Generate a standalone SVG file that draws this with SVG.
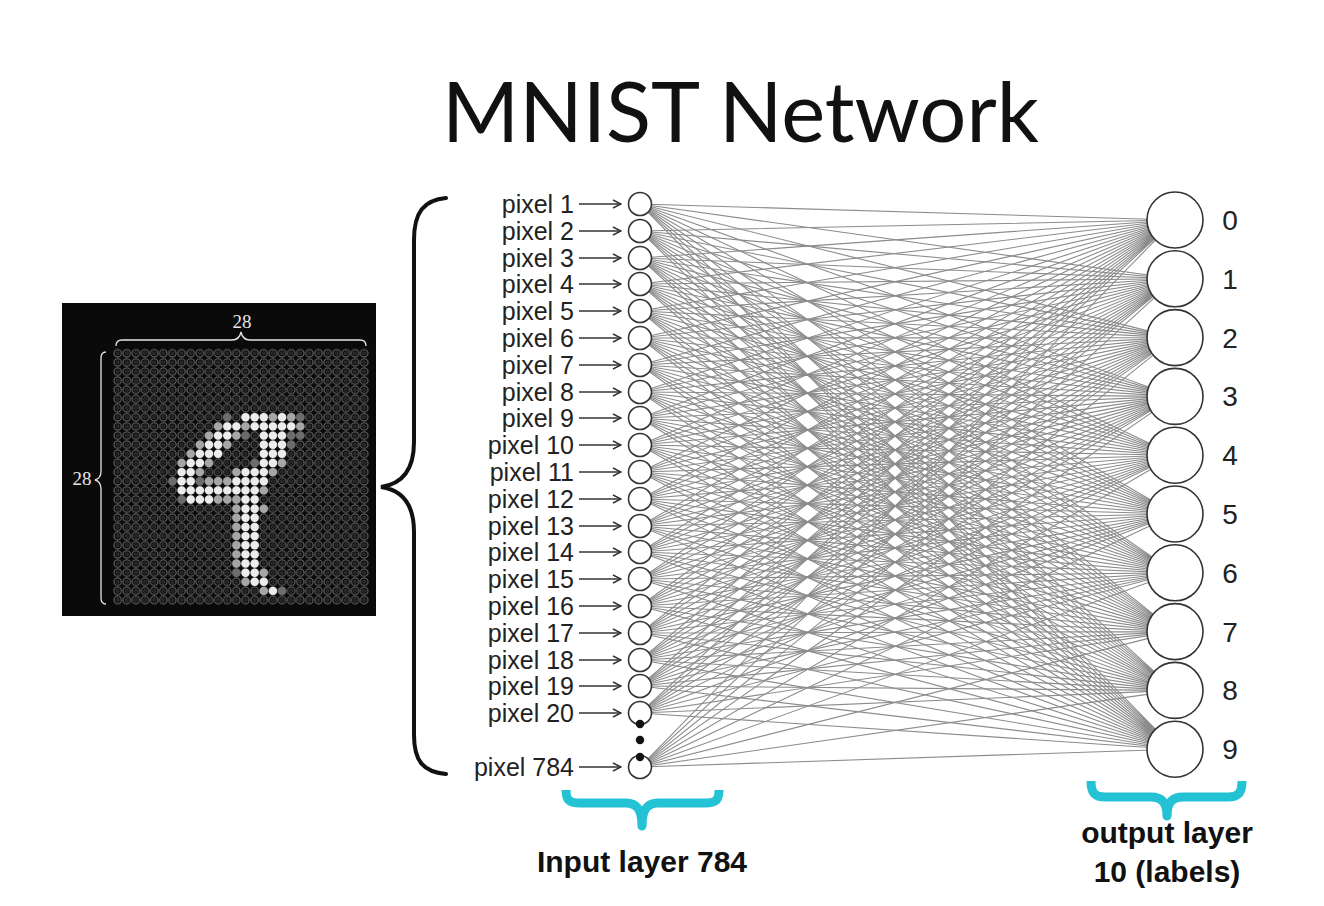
<svg xmlns="http://www.w3.org/2000/svg" width="1324" height="906" viewBox="0 0 1324 906">
<defs>
<style>
.lbl{font-family:"Liberation Sans",Arial,sans-serif;font-size:25px;fill:#222;text-anchor:end}
.dig{font-family:"Liberation Sans",Arial,sans-serif;font-size:28px;fill:#222;text-anchor:middle}
.bold{font-family:"Liberation Sans",Arial,sans-serif;font-size:30px;font-weight:bold;fill:#111;text-anchor:middle}
.arr{stroke:#333;stroke-width:1.4;fill:none}
.in{fill:#fff;stroke:#333;stroke-width:1.6}
.out{fill:#fff;stroke:#333;stroke-width:1.6}
.conn path{stroke:#8c8c8c;stroke-width:1.1;fill:none}
.teal{stroke:#24c2d5;stroke-width:9;fill:none;stroke-linejoin:round}
.w{fill:#ececec}.g{fill:#a6a6a6}.d{fill:#6c6c6c}
.mn{font-family:"Liberation Serif","Times New Roman",serif;font-size:19px;fill:#e6e6e6;text-anchor:middle}
</style>
<marker id="ah" viewBox="0 0 10 10" refX="9" refY="5" markerWidth="10" markerHeight="10" markerUnits="userSpaceOnUse" orient="auto">
<path d="M1,1 L9,5 L1,9" fill="none" stroke="#333" stroke-width="1.4"/>
</marker>
<pattern id="px" x="113.1" y="348.7" width="9.13" height="9.14" patternUnits="userSpaceOnUse">
<circle cx="4.565" cy="4.57" r="3.7" fill="none" stroke="#9a9a9a" stroke-width="0.7"/>
<circle cx="4.565" cy="4.57" r="1.4" fill="none" stroke="#5a5a5a" stroke-width="0.6"/>
</pattern>
</defs>
<rect width="1324" height="906" fill="#fff"/>

<text x="442" y="142" font-family="Lato,'Open Sans',sans-serif" font-size="84" fill="#111" textLength="597" lengthAdjust="spacingAndGlyphs">MNIST Network</text>

<g id="mnist-image">
<rect x="62" y="303" width="314" height="313" fill="#0a0a0a"/>
<rect x="113.1" y="348.7" width="255.7" height="256" fill="url(#px)"/>
<g>
<circle class="d" cx="227.3" cy="417.3" r="4.2"/><circle class="w" cx="245.5" cy="417.3" r="4.2"/><circle class="w" cx="254.7" cy="417.3" r="4.2"/><circle class="w" cx="263.8" cy="417.3" r="4.2"/><circle class="g" cx="272.9" cy="417.3" r="4.2"/><circle class="w" cx="282" cy="417.3" r="4.2"/><circle class="g" cx="291.2" cy="417.3" r="4.2"/><circle class="d" cx="300.3" cy="417.3" r="4.2"/>
<circle class="g" cx="218.1" cy="426.4" r="4.2"/><circle class="w" cx="227.3" cy="426.4" r="4.2"/><circle class="w" cx="236.4" cy="426.4" r="4.2"/><circle class="g" cx="245.5" cy="426.4" r="4.2"/><circle class="w" cx="254.7" cy="426.4" r="4.2"/><circle class="w" cx="263.8" cy="426.4" r="4.2"/><circle class="w" cx="272.9" cy="426.4" r="4.2"/><circle class="w" cx="282" cy="426.4" r="4.2"/><circle class="w" cx="291.2" cy="426.4" r="4.2"/><circle class="g" cx="300.3" cy="426.4" r="4.2"/>
<circle class="g" cx="209" cy="435.6" r="4.2"/><circle class="w" cx="218.1" cy="435.6" r="4.2"/><circle class="w" cx="227.3" cy="435.6" r="4.2"/><circle class="g" cx="236.4" cy="435.6" r="4.2"/><circle class="d" cx="245.5" cy="435.6" r="4.2"/><circle class="w" cx="263.8" cy="435.6" r="4.2"/><circle class="w" cx="272.9" cy="435.6" r="4.2"/><circle class="w" cx="282" cy="435.6" r="4.2"/><circle class="d" cx="291.2" cy="435.6" r="4.2"/><circle class="d" cx="300.3" cy="435.6" r="4.2"/>
<circle class="g" cx="199.9" cy="444.7" r="4.2"/><circle class="w" cx="209" cy="444.7" r="4.2"/><circle class="w" cx="218.1" cy="444.7" r="4.2"/><circle class="g" cx="227.3" cy="444.7" r="4.2"/><circle class="w" cx="263.8" cy="444.7" r="4.2"/><circle class="w" cx="272.9" cy="444.7" r="4.2"/><circle class="w" cx="282" cy="444.7" r="4.2"/><circle class="d" cx="291.2" cy="444.7" r="4.2"/>
<circle class="g" cx="190.7" cy="453.8" r="4.2"/><circle class="w" cx="199.9" cy="453.8" r="4.2"/><circle class="w" cx="209" cy="453.8" r="4.2"/><circle class="w" cx="218.1" cy="453.8" r="4.2"/><circle class="w" cx="263.8" cy="453.8" r="4.2"/><circle class="w" cx="272.9" cy="453.8" r="4.2"/><circle class="w" cx="282" cy="453.8" r="4.2"/>
<circle class="g" cx="181.6" cy="463" r="4.2"/><circle class="w" cx="190.7" cy="463" r="4.2"/><circle class="w" cx="199.9" cy="463" r="4.2"/><circle class="g" cx="209" cy="463" r="4.2"/><circle class="d" cx="254.7" cy="463" r="4.2"/><circle class="w" cx="263.8" cy="463" r="4.2"/><circle class="w" cx="272.9" cy="463" r="4.2"/><circle class="g" cx="282" cy="463" r="4.2"/>
<circle class="w" cx="181.6" cy="472.1" r="4.2"/><circle class="w" cx="190.7" cy="472.1" r="4.2"/><circle class="g" cx="199.9" cy="472.1" r="4.2"/><circle class="g" cx="236.4" cy="472.1" r="4.2"/><circle class="w" cx="245.5" cy="472.1" r="4.2"/><circle class="w" cx="254.7" cy="472.1" r="4.2"/><circle class="w" cx="263.8" cy="472.1" r="4.2"/><circle class="g" cx="272.9" cy="472.1" r="4.2"/>
<circle class="d" cx="172.5" cy="481.3" r="4.2"/><circle class="w" cx="181.6" cy="481.3" r="4.2"/><circle class="w" cx="190.7" cy="481.3" r="4.2"/><circle class="d" cx="199.9" cy="481.3" r="4.2"/><circle class="g" cx="209" cy="481.3" r="4.2"/><circle class="g" cx="218.1" cy="481.3" r="4.2"/><circle class="g" cx="227.3" cy="481.3" r="4.2"/><circle class="w" cx="236.4" cy="481.3" r="4.2"/><circle class="w" cx="245.5" cy="481.3" r="4.2"/><circle class="w" cx="254.7" cy="481.3" r="4.2"/><circle class="w" cx="263.8" cy="481.3" r="4.2"/>
<circle class="w" cx="181.6" cy="490.4" r="4.2"/><circle class="w" cx="190.7" cy="490.4" r="4.2"/><circle class="w" cx="199.9" cy="490.4" r="4.2"/><circle class="w" cx="209" cy="490.4" r="4.2"/><circle class="w" cx="218.1" cy="490.4" r="4.2"/><circle class="w" cx="227.3" cy="490.4" r="4.2"/><circle class="w" cx="236.4" cy="490.4" r="4.2"/><circle class="w" cx="245.5" cy="490.4" r="4.2"/><circle class="w" cx="254.7" cy="490.4" r="4.2"/><circle class="g" cx="263.8" cy="490.4" r="4.2"/>
<circle class="d" cx="181.6" cy="499.5" r="4.2"/><circle class="w" cx="190.7" cy="499.5" r="4.2"/><circle class="w" cx="199.9" cy="499.5" r="4.2"/><circle class="w" cx="209" cy="499.5" r="4.2"/><circle class="g" cx="218.1" cy="499.5" r="4.2"/><circle class="g" cx="227.3" cy="499.5" r="4.2"/><circle class="g" cx="236.4" cy="499.5" r="4.2"/><circle class="w" cx="245.5" cy="499.5" r="4.2"/><circle class="w" cx="254.7" cy="499.5" r="4.2"/>
<circle class="g" cx="236.4" cy="508.7" r="4.2"/><circle class="w" cx="245.5" cy="508.7" r="4.2"/><circle class="w" cx="254.7" cy="508.7" r="4.2"/><circle class="g" cx="263.8" cy="508.7" r="4.2"/>
<circle class="g" cx="236.4" cy="517.8" r="4.2"/><circle class="w" cx="245.5" cy="517.8" r="4.2"/><circle class="w" cx="254.7" cy="517.8" r="4.2"/>
<circle class="g" cx="236.4" cy="527" r="4.2"/><circle class="w" cx="245.5" cy="527" r="4.2"/><circle class="w" cx="254.7" cy="527" r="4.2"/>
<circle class="g" cx="236.4" cy="536.1" r="4.2"/><circle class="w" cx="245.5" cy="536.1" r="4.2"/><circle class="w" cx="254.7" cy="536.1" r="4.2"/>
<circle class="g" cx="236.4" cy="545.3" r="4.2"/><circle class="w" cx="245.5" cy="545.3" r="4.2"/><circle class="w" cx="254.7" cy="545.3" r="4.2"/>
<circle class="g" cx="236.4" cy="554.4" r="4.2"/><circle class="w" cx="245.5" cy="554.4" r="4.2"/><circle class="w" cx="254.7" cy="554.4" r="4.2"/>
<circle class="g" cx="236.4" cy="563.5" r="4.2"/><circle class="w" cx="245.5" cy="563.5" r="4.2"/><circle class="w" cx="254.7" cy="563.5" r="4.2"/>
<circle class="d" cx="236.4" cy="572.7" r="4.2"/><circle class="w" cx="245.5" cy="572.7" r="4.2"/><circle class="w" cx="254.7" cy="572.7" r="4.2"/><circle class="g" cx="263.8" cy="572.7" r="4.2"/>
<circle class="g" cx="245.5" cy="581.8" r="4.2"/><circle class="w" cx="254.7" cy="581.8" r="4.2"/><circle class="w" cx="263.8" cy="581.8" r="4.2"/>
<circle class="g" cx="263.8" cy="590.9" r="4.2"/><circle class="w" cx="272.9" cy="590.9" r="4.2"/><circle class="d" cx="282" cy="590.9" r="4.2"/>
</g>
<path d="M116,346 C116,342 118,340 122,340 L232,340 C237,340 240,337 241,332 C242,337 245,340 250,340 L360,340 C364,340 366,342 366,346" fill="none" stroke="#e6e6e6" stroke-width="1.3"/>
<path d="M106,352 C102,352 101,354 101,358 L101,471 C101,476 99,479 95,480 C99,481 101,484 101,489 L101,598 C101,602 102,604 106,604" fill="none" stroke="#e6e6e6" stroke-width="1.3"/>
<text class="mn" x="242" y="328">28</text>
<text class="mn" x="82" y="485">28</text>
</g>

<g id="big-brace">
<path d="M446,198 C424,200 414,212 414,240 L414,442 C414,470 402,484 381,487 C402,490 414,504 414,532 L414,735 C414,762 424,772 446,774" fill="none" stroke="#111" stroke-width="4" stroke-linecap="round"/>
</g>

<g id="connectors" class="conn">
<path d="M640 204L1175 220M640 231L1175 220M640 258L1175 220M640 284L1175 220M640 311L1175 220M640 338L1175 220M640 365L1175 220M640 392L1175 220M640 418L1175 220M640 445L1175 220M640 472L1175 220M640 499L1175 220M640 526L1175 220M640 552L1175 220M640 579L1175 220M640 606L1175 220M640 633L1175 220M640 660L1175 220M640 686L1175 220M640 713L1175 220M640 767L1175 220"/>
<path d="M640 204L1175 278.8M640 231L1175 278.8M640 258L1175 278.8M640 284L1175 278.8M640 311L1175 278.8M640 338L1175 278.8M640 365L1175 278.8M640 392L1175 278.8M640 418L1175 278.8M640 445L1175 278.8M640 472L1175 278.8M640 499L1175 278.8M640 526L1175 278.8M640 552L1175 278.8M640 579L1175 278.8M640 606L1175 278.8M640 633L1175 278.8M640 660L1175 278.8M640 686L1175 278.8M640 713L1175 278.8M640 767L1175 278.8"/>
<path d="M640 204L1175 337.6M640 231L1175 337.6M640 258L1175 337.6M640 284L1175 337.6M640 311L1175 337.6M640 338L1175 337.6M640 365L1175 337.6M640 392L1175 337.6M640 418L1175 337.6M640 445L1175 337.6M640 472L1175 337.6M640 499L1175 337.6M640 526L1175 337.6M640 552L1175 337.6M640 579L1175 337.6M640 606L1175 337.6M640 633L1175 337.6M640 660L1175 337.6M640 686L1175 337.6M640 713L1175 337.6M640 767L1175 337.6"/>
<path d="M640 204L1175 396.4M640 231L1175 396.4M640 258L1175 396.4M640 284L1175 396.4M640 311L1175 396.4M640 338L1175 396.4M640 365L1175 396.4M640 392L1175 396.4M640 418L1175 396.4M640 445L1175 396.4M640 472L1175 396.4M640 499L1175 396.4M640 526L1175 396.4M640 552L1175 396.4M640 579L1175 396.4M640 606L1175 396.4M640 633L1175 396.4M640 660L1175 396.4M640 686L1175 396.4M640 713L1175 396.4M640 767L1175 396.4"/>
<path d="M640 204L1175 455.2M640 231L1175 455.2M640 258L1175 455.2M640 284L1175 455.2M640 311L1175 455.2M640 338L1175 455.2M640 365L1175 455.2M640 392L1175 455.2M640 418L1175 455.2M640 445L1175 455.2M640 472L1175 455.2M640 499L1175 455.2M640 526L1175 455.2M640 552L1175 455.2M640 579L1175 455.2M640 606L1175 455.2M640 633L1175 455.2M640 660L1175 455.2M640 686L1175 455.2M640 713L1175 455.2M640 767L1175 455.2"/>
<path d="M640 204L1175 514M640 231L1175 514M640 258L1175 514M640 284L1175 514M640 311L1175 514M640 338L1175 514M640 365L1175 514M640 392L1175 514M640 418L1175 514M640 445L1175 514M640 472L1175 514M640 499L1175 514M640 526L1175 514M640 552L1175 514M640 579L1175 514M640 606L1175 514M640 633L1175 514M640 660L1175 514M640 686L1175 514M640 713L1175 514M640 767L1175 514"/>
<path d="M640 204L1175 572.8M640 231L1175 572.8M640 258L1175 572.8M640 284L1175 572.8M640 311L1175 572.8M640 338L1175 572.8M640 365L1175 572.8M640 392L1175 572.8M640 418L1175 572.8M640 445L1175 572.8M640 472L1175 572.8M640 499L1175 572.8M640 526L1175 572.8M640 552L1175 572.8M640 579L1175 572.8M640 606L1175 572.8M640 633L1175 572.8M640 660L1175 572.8M640 686L1175 572.8M640 713L1175 572.8M640 767L1175 572.8"/>
<path d="M640 204L1175 631.6M640 231L1175 631.6M640 258L1175 631.6M640 284L1175 631.6M640 311L1175 631.6M640 338L1175 631.6M640 365L1175 631.6M640 392L1175 631.6M640 418L1175 631.6M640 445L1175 631.6M640 472L1175 631.6M640 499L1175 631.6M640 526L1175 631.6M640 552L1175 631.6M640 579L1175 631.6M640 606L1175 631.6M640 633L1175 631.6M640 660L1175 631.6M640 686L1175 631.6M640 713L1175 631.6M640 767L1175 631.6"/>
<path d="M640 204L1175 690.4M640 231L1175 690.4M640 258L1175 690.4M640 284L1175 690.4M640 311L1175 690.4M640 338L1175 690.4M640 365L1175 690.4M640 392L1175 690.4M640 418L1175 690.4M640 445L1175 690.4M640 472L1175 690.4M640 499L1175 690.4M640 526L1175 690.4M640 552L1175 690.4M640 579L1175 690.4M640 606L1175 690.4M640 633L1175 690.4M640 660L1175 690.4M640 686L1175 690.4M640 713L1175 690.4M640 767L1175 690.4"/>
<path d="M640 204L1175 749.2M640 231L1175 749.2M640 258L1175 749.2M640 284L1175 749.2M640 311L1175 749.2M640 338L1175 749.2M640 365L1175 749.2M640 392L1175 749.2M640 418L1175 749.2M640 445L1175 749.2M640 472L1175 749.2M640 499L1175 749.2M640 526L1175 749.2M640 552L1175 749.2M640 579L1175 749.2M640 606L1175 749.2M640 633L1175 749.2M640 660L1175 749.2M640 686L1175 749.2M640 713L1175 749.2M640 767L1175 749.2"/>
</g>

<g id="input-arrows">
<line class="arr" x1="579" y1="204" x2="621" y2="204" marker-end="url(#ah)"/>
<line class="arr" x1="579" y1="231" x2="621" y2="231" marker-end="url(#ah)"/>
<line class="arr" x1="579" y1="258" x2="621" y2="258" marker-end="url(#ah)"/>
<line class="arr" x1="579" y1="284" x2="621" y2="284" marker-end="url(#ah)"/>
<line class="arr" x1="579" y1="311" x2="621" y2="311" marker-end="url(#ah)"/>
<line class="arr" x1="579" y1="338" x2="621" y2="338" marker-end="url(#ah)"/>
<line class="arr" x1="579" y1="365" x2="621" y2="365" marker-end="url(#ah)"/>
<line class="arr" x1="579" y1="392" x2="621" y2="392" marker-end="url(#ah)"/>
<line class="arr" x1="579" y1="418" x2="621" y2="418" marker-end="url(#ah)"/>
<line class="arr" x1="579" y1="445" x2="621" y2="445" marker-end="url(#ah)"/>
<line class="arr" x1="579" y1="472" x2="621" y2="472" marker-end="url(#ah)"/>
<line class="arr" x1="579" y1="499" x2="621" y2="499" marker-end="url(#ah)"/>
<line class="arr" x1="579" y1="526" x2="621" y2="526" marker-end="url(#ah)"/>
<line class="arr" x1="579" y1="552" x2="621" y2="552" marker-end="url(#ah)"/>
<line class="arr" x1="579" y1="579" x2="621" y2="579" marker-end="url(#ah)"/>
<line class="arr" x1="579" y1="606" x2="621" y2="606" marker-end="url(#ah)"/>
<line class="arr" x1="579" y1="633" x2="621" y2="633" marker-end="url(#ah)"/>
<line class="arr" x1="579" y1="660" x2="621" y2="660" marker-end="url(#ah)"/>
<line class="arr" x1="579" y1="686" x2="621" y2="686" marker-end="url(#ah)"/>
<line class="arr" x1="579" y1="713" x2="621" y2="713" marker-end="url(#ah)"/>
<line class="arr" x1="579" y1="767" x2="621" y2="767" marker-end="url(#ah)"/>
</g>

<g id="input-layer">
<g id="in1"><circle class="in" cx="640" cy="204" r="11.5"/><text class="lbl" x="574" y="213">pixel 1</text></g>
<g id="in2"><circle class="in" cx="640" cy="231" r="11.5"/><text class="lbl" x="574" y="240">pixel 2</text></g>
<g id="in3"><circle class="in" cx="640" cy="258" r="11.5"/><text class="lbl" x="574" y="267">pixel 3</text></g>
<g id="in4"><circle class="in" cx="640" cy="284" r="11.5"/><text class="lbl" x="574" y="293">pixel 4</text></g>
<g id="in5"><circle class="in" cx="640" cy="311" r="11.5"/><text class="lbl" x="574" y="320">pixel 5</text></g>
<g id="in6"><circle class="in" cx="640" cy="338" r="11.5"/><text class="lbl" x="574" y="347">pixel 6</text></g>
<g id="in7"><circle class="in" cx="640" cy="365" r="11.5"/><text class="lbl" x="574" y="374">pixel 7</text></g>
<g id="in8"><circle class="in" cx="640" cy="392" r="11.5"/><text class="lbl" x="574" y="401">pixel 8</text></g>
<g id="in9"><circle class="in" cx="640" cy="418" r="11.5"/><text class="lbl" x="574" y="427">pixel 9</text></g>
<g id="in10"><circle class="in" cx="640" cy="445" r="11.5"/><text class="lbl" x="574" y="454">pixel 10</text></g>
<g id="in11"><circle class="in" cx="640" cy="472" r="11.5"/><text class="lbl" x="574" y="481">pixel 11</text></g>
<g id="in12"><circle class="in" cx="640" cy="499" r="11.5"/><text class="lbl" x="574" y="508">pixel 12</text></g>
<g id="in13"><circle class="in" cx="640" cy="526" r="11.5"/><text class="lbl" x="574" y="535">pixel 13</text></g>
<g id="in14"><circle class="in" cx="640" cy="552" r="11.5"/><text class="lbl" x="574" y="561">pixel 14</text></g>
<g id="in15"><circle class="in" cx="640" cy="579" r="11.5"/><text class="lbl" x="574" y="588">pixel 15</text></g>
<g id="in16"><circle class="in" cx="640" cy="606" r="11.5"/><text class="lbl" x="574" y="615">pixel 16</text></g>
<g id="in17"><circle class="in" cx="640" cy="633" r="11.5"/><text class="lbl" x="574" y="642">pixel 17</text></g>
<g id="in18"><circle class="in" cx="640" cy="660" r="11.5"/><text class="lbl" x="574" y="669">pixel 18</text></g>
<g id="in19"><circle class="in" cx="640" cy="686" r="11.5"/><text class="lbl" x="574" y="695">pixel 19</text></g>
<g id="in20"><circle class="in" cx="640" cy="713" r="11.5"/><text class="lbl" x="574" y="722">pixel 20</text></g>
<g id="in784"><circle class="in" cx="640" cy="767" r="11.5"/><text class="lbl" x="574" y="776">pixel 784</text></g>
<g id="ellipsis"><circle cx="640" cy="724" r="4.2" fill="#111"/><circle cx="640" cy="740" r="4.2" fill="#111"/><circle cx="640" cy="757" r="4.2" fill="#111"/></g>
</g>

<g id="output-layer">
<g id="out0"><circle class="out" cx="1175" cy="220" r="28"/><text class="dig" x="1230" y="230">0</text></g>
<g id="out1"><circle class="out" cx="1175" cy="278.8" r="28"/><text class="dig" x="1230" y="288.8">1</text></g>
<g id="out2"><circle class="out" cx="1175" cy="337.6" r="28"/><text class="dig" x="1230" y="347.6">2</text></g>
<g id="out3"><circle class="out" cx="1175" cy="396.4" r="28"/><text class="dig" x="1230" y="406.4">3</text></g>
<g id="out4"><circle class="out" cx="1175" cy="455.2" r="28"/><text class="dig" x="1230" y="465.2">4</text></g>
<g id="out5"><circle class="out" cx="1175" cy="514" r="28"/><text class="dig" x="1230" y="524">5</text></g>
<g id="out6"><circle class="out" cx="1175" cy="572.8" r="28"/><text class="dig" x="1230" y="582.8">6</text></g>
<g id="out7"><circle class="out" cx="1175" cy="631.6" r="28"/><text class="dig" x="1230" y="641.6">7</text></g>
<g id="out8"><circle class="out" cx="1175" cy="690.4" r="28"/><text class="dig" x="1230" y="700.4">8</text></g>
<g id="out9"><circle class="out" cx="1175" cy="749.2" r="28"/><text class="dig" x="1230" y="759.2">9</text></g>
</g>

<g id="input-layer-label">
<path class="teal" d="M566,790 C566,800 569,803 580,803 L626,803 C637,803 642,810 642,826 C642,810 647,803 658,803 L705,803 C716,803 719,800 719,790"/>
<text class="bold" x="642" y="872">Input layer 784</text>
</g>

<g id="output-layer-label">
<path class="teal" d="M1091,781 C1091,792 1094,797 1105,797 L1151,797 C1162,797 1167,803 1167,816 C1167,803 1172,797 1183,797 L1228,797 C1239,797 1242,792 1242,781"/>
<text class="bold" x="1167" y="843">output layer</text>
<text class="bold" x="1167" y="882">10 (labels)</text>
</g>
</svg>
